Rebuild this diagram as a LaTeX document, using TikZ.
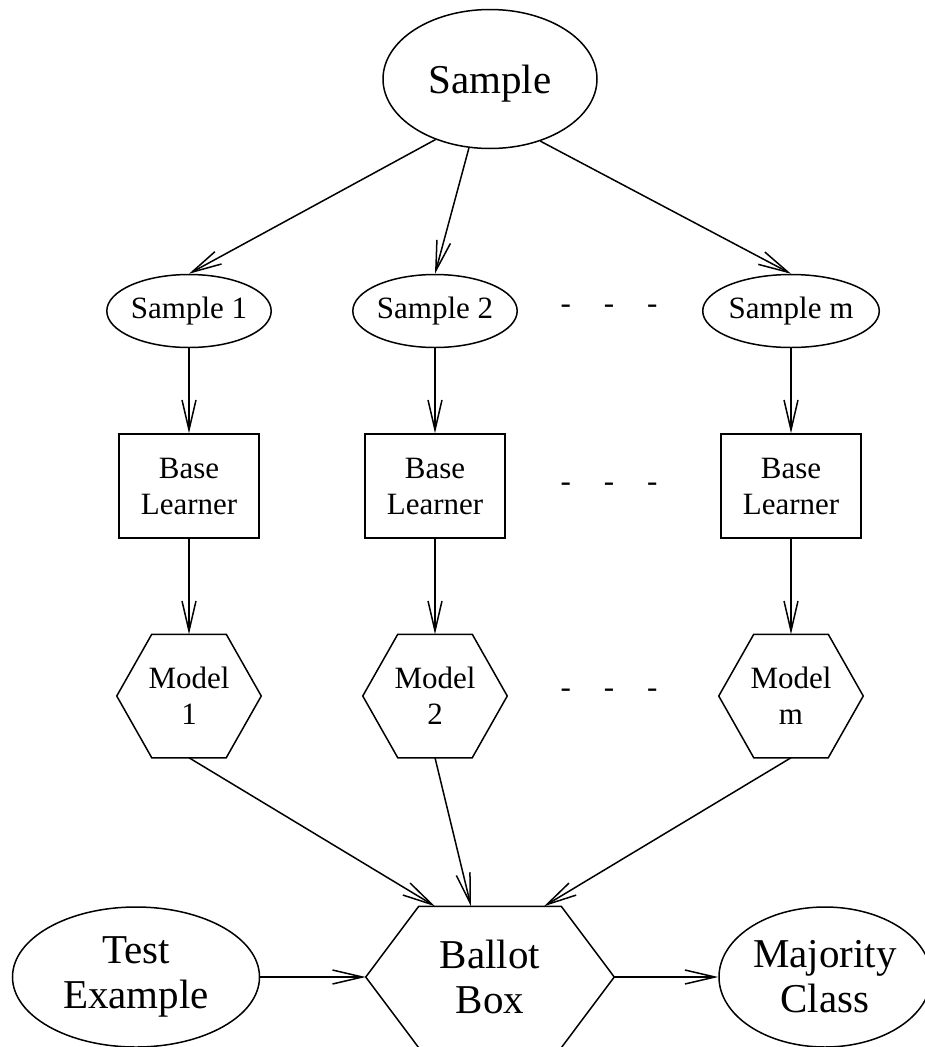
\documentclass[tikz,border=0pt]{standalone}
\usepackage{fontspec}
\setmainfont{Liberation Serif}
\usetikzlibrary{shapes.geometric,arrows.meta}
\tikzset{
	big/.style={font=\fontsize{41}{45}\selectfont},
	small/.style={font=\fontsize{31}{36}\selectfont},
	oval/.style={ellipse, draw, inner sep=0pt, align=center},
	learner/.style={rectangle, draw, small, align=center, minimum width=140pt, minimum height=104pt},
	hexa/.style={rectangle, inner sep=0pt, align=center,
		append after command={\pgfextra{\draw ([xshift=#1]\tikzlastnode.north west) -- ([xshift=-#1]\tikzlastnode.north east) -- (\tikzlastnode.east) -- ([xshift=-#1]\tikzlastnode.south east) -- ([xshift=#1]\tikzlastnode.south west) -- (\tikzlastnode.west) -- cycle;}}},
	gap/.style={small, inner sep=0pt}
}
\newcommand{\gapdashes}{-\hspace{33pt}-\hspace{33pt}-}

\begin{document}
\begin{tikzpicture}[x=1pt, y=-1pt, line width=1.5pt, >={Straight Barb[length=30pt,width=14pt]}]
		\useasboundingbox (0,0) rectangle (924,1047);
		\node [oval, big, text depth=0pt, minimum width=214pt, minimum height=139pt] (smp) at (490,79) {Sample};
		\node [oval, small, minimum width=162pt, minimum height=73pt] (smp1) at (189,311) {Sample 1};
		\node [oval, small, minimum width=158pt, minimum height=73pt] (smp2) at (435,311) {Sample 2};
		\node [oval, small, minimum width=160pt, minimum height=73pt] (smpm) at (791,311) {Sample m};
		\node [gap] (gap1) at (609,309) {\gapdashes};
		\node [learner] (bl1) at (189,486) {Base\\Learner};
		\node [learner] (bl2) at (435,486) {Base\\Learner};
		\node [learner] (blm) at (791,486) {Base\\Learner};
		\node [gap] (gap2) at (609,487) {\gapdashes};
		\node [hexa=35pt, small, minimum width=143pt, minimum height=122pt] (mod1) at (189,696) {Model\\1};
		\node [hexa=35pt, small, minimum width=143pt, minimum height=122pt] (mod2) at (435,696) {Model\\2};
		\node [hexa=35pt, small, minimum width=143pt, minimum height=122pt] (modm) at (791,696) {Model\\m};
		\node [gap] (gap3) at (609,693) {\gapdashes};
		\node [hexa=53pt, big, minimum width=247pt, minimum height=140pt] (bal) at (490,977) {Ballot\\Box};
		\node [oval, big, minimum width=247pt, minimum height=140pt] (test) at (136,977) {Test\\Example};
		\node [oval, big, minimum width=212pt, minimum height=140pt] (maj) at (825,977) {Majority\\Class};
		\path[->]
		(smp.-132) edge (smp1.north)
		(smp.-107) edge (smp2.north)
		(smp.-51) edge (smpm.north)
		(smp1) edge (bl1)
		(smp2) edge (bl2)
		(smpm) edge (blm)
		(bl1) edge (mod1)
		(bl2) edge (mod2)
		(blm) edge (modm)
		(mod1.south) edge ([xshift=-55pt]bal.north)
		(mod2.south) edge ([xshift=-19pt]bal.north)
		(modm.south) edge ([xshift=54pt]bal.north)
		(test) edge (bal)
		(bal) edge (maj);
\end{tikzpicture}
\end{document}
